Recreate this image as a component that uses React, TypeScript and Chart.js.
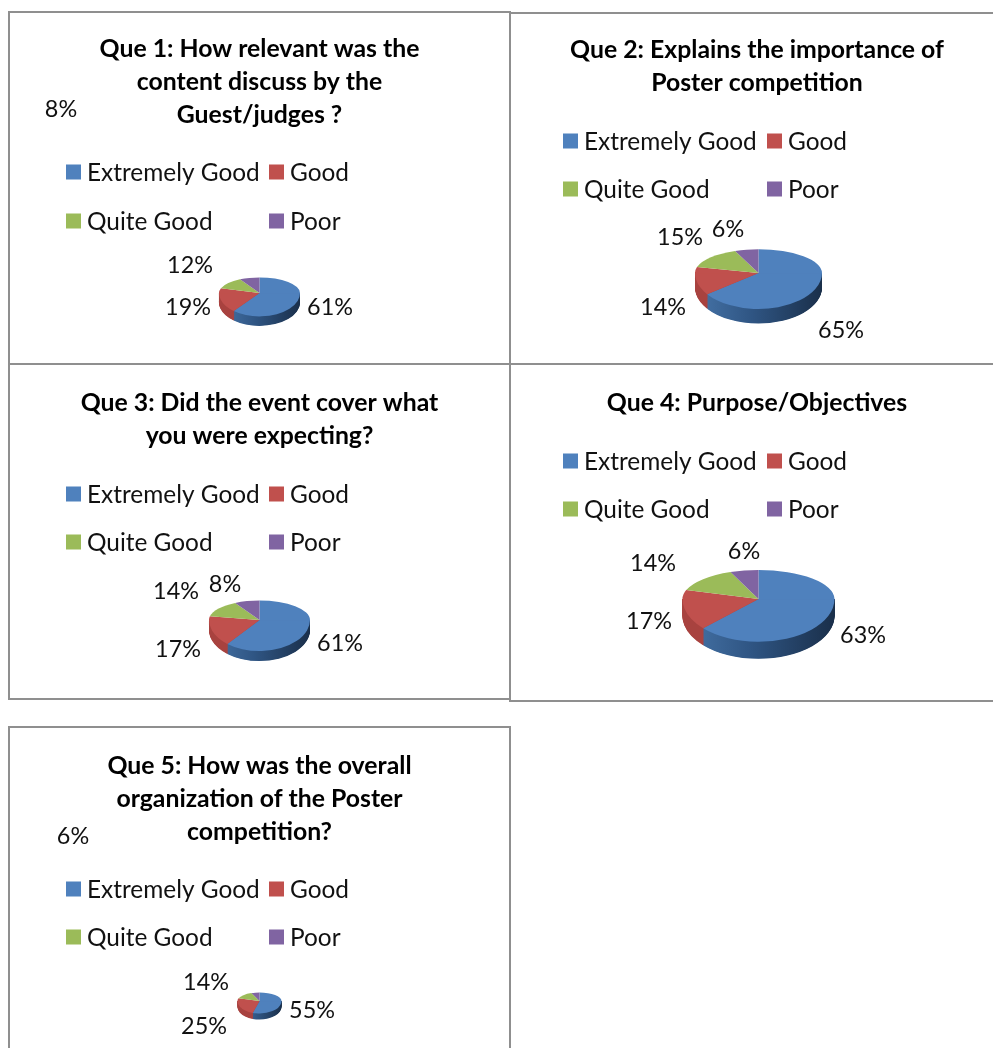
import React, { useEffect, useRef } from "react";
import { Chart, registerables } from "chart.js";

Chart.register(...registerables);

const categories = ["Extremely Good", "Good", "Quite Good", "Poor"];
const colors = ["#4F81BD", "#C0504D", "#9BBB59", "#8064A2"];
const sideLeft = ["#4674A8", "#A8423F", "#7E9A48", "#6A5288"];
const sideRight = ["#1A2F4A", "#7A2F2D", "#5F7536", "#4C3B63"];

const q1Values = [61, 19, 12, 8];
const q2Values = [65, 14, 15, 6];
const q3Values = [61, 17, 14, 8];
const q4Values = [63, 17, 14, 6];
const q5Values = [55, 25, 14, 6];

const q1Title = ["Que 1: How relevant was the", "content discuss by the", "Guest/judges ?"];
const q2Title = ["Que 2: Explains the importance of", "Poster competition"];
const q3Title = ["Que 3: Did the event cover what", "you were expecting?"];
const q4Title = ["Que 4: Purpose/Objectives"];
const q5Title = ["Que 5: How was the overall", "organization of the Poster", "competition?"];

const FONT = "Lato, Carlito, Calibri, sans-serif";
const TITLE_SIZE = 24.8;
const TEXT_SIZE = 24.4;
const LABEL_SIZE = 23.4;
const TITLE_LH = 32.8;

type Panel = {
  title: string[];
  values: number[];
  cell: { x: number; y: number; w: number; h: number };
  titleY: number;
  legend: { col1: number; col2: number; row1: number; row2: number };
  pie: { cx: number; cy: number; rx: number; up: number; down: number; depth: number };
  labels: number[][];
};

const leftLegend = { col1: 66, col2: 269 };
const rightLegend = { col1: 563, col2: 767 };

const panels: Panel[] = [
  {
    title: q1Title, values: q1Values,
    cell: { x: 8, y: 11, w: 503, h: 354 }, titleY: 49,
    legend: { ...leftLegend, row1: 173, row2: 222 },
    pie: { cx: 259.5, cy: 293, rx: 40.5, up: 15.6, down: 23.4, depth: 9.5 },
    labels: [[330, 307], [188, 307], [190, 265], [61, 109]],
  },
  {
    title: q2Title, values: q2Values,
    cell: { x: 509, y: 12, w: 496, h: 353 }, titleY: 50,
    legend: { ...rightLegend, row1: 142, row2: 190 },
    pie: { cx: 758.5, cy: 273, rx: 63.5, up: 23.7, down: 36, depth: 14.5 },
    labels: [[841, 330], [663, 307], [680, 237], [728, 229]],
  },
  {
    title: q3Title, values: q3Values,
    cell: { x: 8, y: 363, w: 503, h: 337 }, titleY: 403,
    legend: { ...leftLegend, row1: 495, row2: 543 },
    pie: { cx: 259.5, cy: 620, rx: 50.5, up: 19.5, down: 31, depth: 10 },
    labels: [[340, 643], [178, 649], [176, 591], [225, 584]],
  },
  {
    title: q4Title, values: q4Values,
    cell: { x: 509, y: 363, w: 496, h: 339 }, titleY: 403,
    legend: { ...rightLegend, row1: 462, row2: 510 },
    pie: { cx: 758.5, cy: 599, rx: 76, up: 29, down: 42.7, depth: 17 },
    labels: [[863, 635], [649, 621], [653, 563], [744, 551]],
  },
  {
    title: q5Title, values: q5Values,
    cell: { x: 8, y: 726, w: 503, h: 340 }, titleY: 766,
    legend: { ...leftLegend, row1: 890, row2: 938 },
    pie: { cx: 259.5, cy: 1001, rx: 22, up: 8.5, down: 12.5, depth: 6 },
    labels: [[312, 1010], [204, 1026], [206, 982], [73, 836]],
  },
];

function makePiePlugin(p: Panel) {
  const ox = p.cell.x;
  const oy = p.cell.y;
  const cx = p.pie.cx - ox;
  const cy = p.pie.cy - oy;
  const { rx, up, down, depth } = p.pie;
  return {
    id: "pie3d",
    afterLayout(chart: any) {
      chart.chartArea = {
        left: cx - rx, right: cx + rx, top: cy - rx, bottom: cy + rx,
        width: 2 * rx, height: 2 * rx,
      };
    },
    beforeDatasetsDraw(chart: any) {
      const ctx: CanvasRenderingContext2D = chart.ctx;
      const arcs = chart.getDatasetMeta(0).data;
      const half = (upper: boolean, fn: () => void) => {
        ctx.save();
        ctx.beginPath();
        if (upper) ctx.rect(0, 0, chart.width, cy + 0.3);
        else ctx.rect(0, cy, chart.width, chart.height);
        ctx.clip();
        ctx.translate(0, cy);
        ctx.scale(1, (upper ? up : down) / rx);
        ctx.translate(0, -cy);
        fn();
        ctx.restore();
      };
      // side wall: the lower half of every slice, repeated downward
      const sidePasses: number[] = [];
      for (let d = depth; d > 0; d -= 0.5) sidePasses.push(d);
      sidePasses.forEach((d) => {
        ctx.save();
        ctx.beginPath();
        ctx.rect(0, cy, chart.width, chart.height);
        ctx.clip();
        ctx.translate(0, cy + d);
        ctx.scale(1, down / rx);
        ctx.translate(0, -cy);
        arcs.forEach((arc: any, i: number) => {
          const g = ctx.createLinearGradient(cx - rx, 0, cx + rx, 0);
          g.addColorStop(0, sideLeft[i]);
          g.addColorStop(0.45, i === 0 ? "#2F5583" : sideLeft[i]);
          g.addColorStop(1, sideRight[i]);
          ctx.fillStyle = g;
          ctx.beginPath();
          ctx.moveTo(arc.x, arc.y);
          ctx.arc(arc.x, arc.y, arc.outerRadius, arc.startAngle, arc.endAngle);
          ctx.closePath();
          ctx.fill();
        });
        ctx.restore();
      });
      // top face, through the library's own arc elements
      half(false, () => arcs.forEach((a: any) => a.draw(ctx)));
      half(true, () => arcs.forEach((a: any) => a.draw(ctx)));
      return false;
    },
    afterDraw(chart: any) {
      const ctx: CanvasRenderingContext2D = chart.ctx;
      ctx.save();
      ctx.font = `${LABEL_SIZE}px ${FONT}`;
      ctx.fillStyle = "#111";
      ctx.textBaseline = "middle";
      // data labels
      ctx.textAlign = "center";
      p.values.forEach((v, i) => {
        ctx.fillText(`${v}%`, p.labels[i][0] - ox, p.labels[i][1] - oy);
      });
      // two-column legend
      ctx.font = `${TEXT_SIZE}px ${FONT}`;
      ctx.textAlign = "left";
      (chart.data.labels as string[]).forEach((label, i) => {
        const x = (i % 2 === 0 ? p.legend.col1 : p.legend.col2) - ox;
        const y = (i < 2 ? p.legend.row1 : p.legend.row2) - oy;
        ctx.fillStyle = colors[i];
        ctx.fillRect(x, y - 8.5, 15, 15);
        ctx.fillStyle = "#111";
        ctx.fillText(label, x + 21, y);
      });
      ctx.restore();
    },
  };
}

function PieCell({ panel }: { panel: Panel }) {
  const ref = useRef<HTMLCanvasElement>(null);
  useEffect(() => {
    const chart = new Chart(ref.current!, {
      type: "doughnut",
      data: {
        labels: categories,
        datasets: [
          {
            data: panel.values,
            backgroundColor: colors,
            borderWidth: 0,
            clip: false as any,
          },
        ],
      },
      options: {
        animation: false,
        responsive: false,
        cutout: 0,
        events: [],
        layout: { padding: 0 },
        plugins: {
          legend: { display: false },
          tooltip: { enabled: false },
          title: {
            display: true,
            text: panel.title,
            color: "#000",
            font: { family: FONT, size: TITLE_SIZE, weight: "bold", lineHeight: TITLE_LH / TITLE_SIZE },
            padding: { top: panel.titleY - panel.cell.y - TITLE_LH / 2, bottom: 0 },
          },
        },
      },
      plugins: [makePiePlugin(panel)],
    } as any);
    return () => chart.destroy();
  }, [panel]);
  const { x, y, w, h } = panel.cell;
  return (
    <>
      <div
        style={{
          position: "absolute", left: x, top: y, width: w, height: h,
          boxSizing: "border-box", border: "2px solid #8F8F8F",
        }}
      />
      <canvas
        ref={ref}
        width={w}
        height={h}
        style={{ position: "absolute", left: x, top: y, width: w, height: h }}
      />
    </>
  );
}

export default function App() {
  return (
    <div
      style={{
        position: "absolute", left: 0, top: 0, width: 993, height: 1048,
        overflow: "hidden", background: "#fff",
      }}
    >
      {panels.map((p, i) => (
        <PieCell key={i} panel={p} />
      ))}
    </div>
  );
}
